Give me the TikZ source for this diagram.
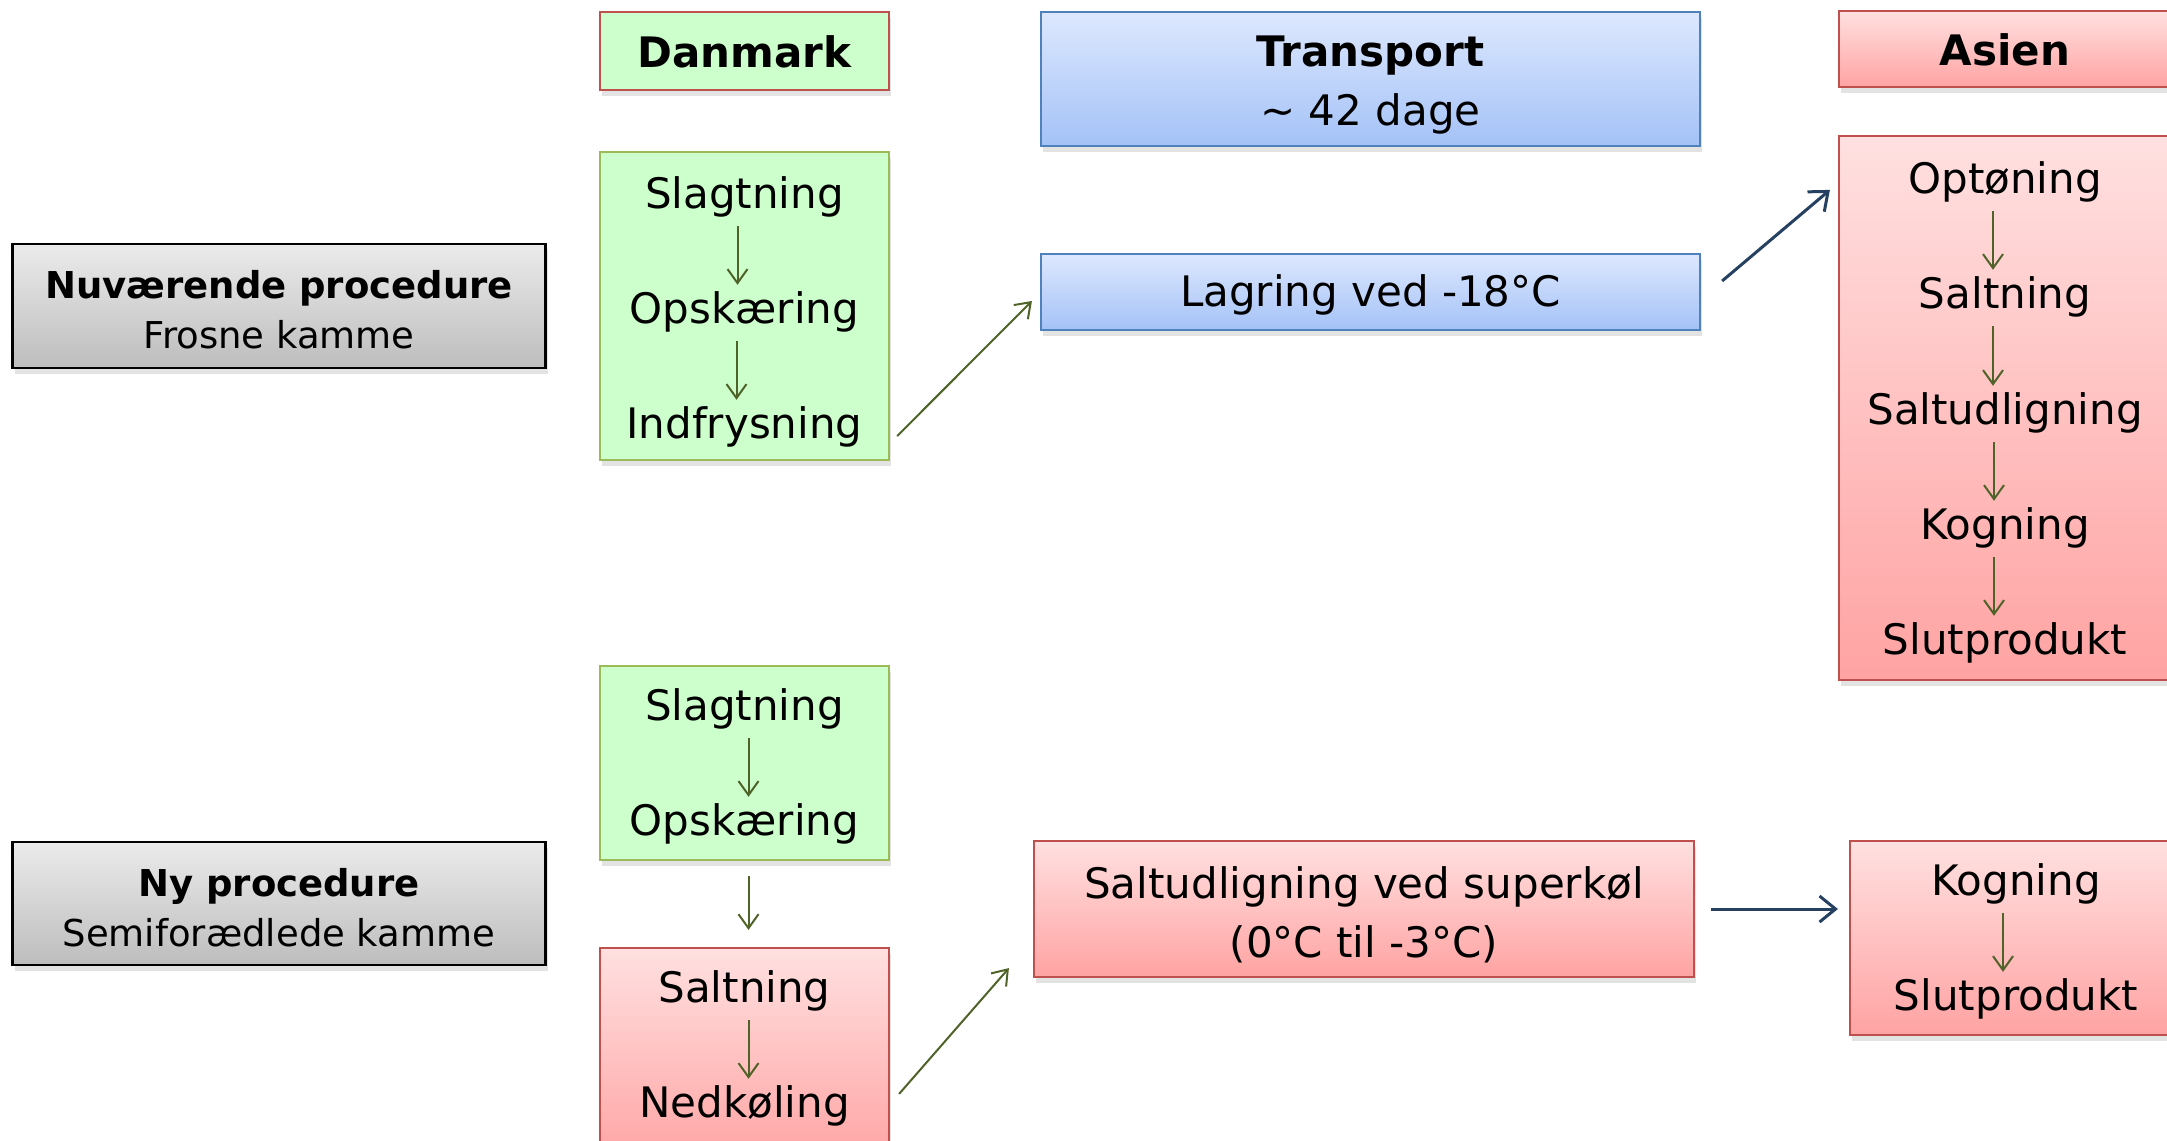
\documentclass[tikz,border=0pt]{standalone}
\usepackage{fontspec}
\setmainfont{DejaVu Sans}
\usetikzlibrary{arrows.meta,shadows}
\definecolor{gfill}{HTML}{CCFFCC}
\definecolor{gborder}{HTML}{9BBB59}
\definecolor{rborder}{HTML}{C0504D}
\definecolor{rtop}{HTML}{FFE0E0}
\definecolor{rbot}{HTML}{FFA3A3}
\definecolor{bborder}{HTML}{4F81BD}
\definecolor{btop}{HTML}{DDE8FE}
\definecolor{bbot}{HTML}{A4C2F7}
\definecolor{gtop}{HTML}{EBEBEB}
\definecolor{gbot}{HTML}{BDBDBD}
\definecolor{garrowc}{HTML}{4F6228}
\definecolor{barrowc}{HTML}{254061}
\begin{document}
\begin{tikzpicture}[x=1pt,y=-1pt,
  box/.style={draw, line width=2.2pt, inner sep=0pt,
    drop shadow={shadow xshift=2pt, shadow yshift=-6pt, opacity=0.22}},
  greenbox/.style={box, draw=gborder, fill=gfill},
  bluebox/.style={box, draw=bborder, top color=btop, bottom color=bbot},
  redbox/.style={box, draw=rborder, top color=rtop, bottom color=rbot},
  greybox/.style={box, draw=black, top color=gtop, bottom color=gbot},
  txt/.style={align=center, inner sep=0pt, font=\fontsize{42}{59}\selectfont},
  lbl/.style={align=center, inner sep=0pt, font=\fontsize{37}{50}\selectfont},
  stp/.style={font=\fontsize{42}{59}\selectfont, text height=31.5pt,
    text depth=10.5pt, inner sep=7pt},
  garrow/.style={draw=garrowc, line width=2pt,
    -{Straight Barb[length=14pt,width=20pt]}},
  barrow/.style={draw=barrowc, line width=3pt,
    -{Straight Barb[length=16pt,width=26pt]}}
]
\useasboundingbox (0,0) rectangle (2167,1140);
\clip (0,0) rectangle (2167,1140);

% headers
\node[box, draw=rborder, fill=gfill, minimum width=289, minimum height=78] (dk) at (744.5,51) {};
\node[stp, font=\fontsize{42}{59}\selectfont\bfseries] (dkt) at (744.5,57) {Danmark};
\node[bluebox, minimum width=659, minimum height=134] (tr) at (1370.5,79) {};
\node[txt] (trt) at (1370.5,85) {\textbf{Transport}\\\textasciitilde\ 42 dage};
\node[redbox, minimum width=332, minimum height=76] (as) at (2005,49) {};
\node[stp, font=\fontsize{42}{59}\selectfont\bfseries] (ast) at (2005,55) {Asien};

% current procedure
\node[greybox, minimum width=533, minimum height=124] (nu) at (279,306) {};
\node[lbl] (nut) at (279,310) {\textbf{Nuværende procedure}\\Frosne kamme};
\node[greenbox, minimum width=289, minimum height=308] (g1) at (744.5,306) {};
\node[stp] (g1a) at (744.5,198) {Slagtning};
\node[stp] (g1b) at (744.5,313) {Opskæring};
\node[stp] (g1c) at (744.5,428) {Indfrysning};
\draw[garrow] ([xshift=-7pt]g1a.south) -- ([xshift=-7pt]g1b.north);
\draw[garrow] ([xshift=-8pt]g1b.south) -- ([xshift=-8pt]g1c.north);

\node[bluebox, minimum width=659, minimum height=76] (lag) at (1370.5,292) {};
\node[stp] (lagt) at (1370.5,296) {Lagring ved -18°C};

\node[redbox, minimum width=332, minimum height=544] (as2) at (2005,408) {};
\node[stp] (a1) at (2005,183) {Optøning};
\node[stp] (a2) at (2005,298) {Saltning};
\node[stp] (a3) at (2005,414) {Saltudligning};
\node[stp] (a4) at (2005,529) {Kogning};
\node[stp] (a5) at (2005,644) {Slutprodukt};
\draw[garrow] ([xshift=-12pt]a1.south) -- ([xshift=-12pt]a2.north);
\draw[garrow] ([xshift=-12pt]a2.south) -- ([xshift=-12pt]a3.north);
\draw[garrow] ([xshift=-11pt]a3.south) -- ([xshift=-11pt]a4.north);
\draw[garrow] ([xshift=-11pt]a4.south) -- ([xshift=-11pt]a5.north);

\draw[garrow] ([shift={(7,-25)}]g1.south east) -- ([shift={(-8,9)}]lag.west);
\draw[barrow] ([shift={(21,-11)}]lag.east) -- ([shift={(-8,55)}]as2.north west);

% new procedure
\node[greybox, minimum width=533, minimum height=123] (ny) at (279,903.5) {};
\node[lbl] (nyt) at (279,908) {\textbf{Ny procedure}\\Semiforædlede kamme};
\node[greenbox, minimum width=289, minimum height=194] (g2) at (744.5,763) {};
\node[stp] (g2a) at (744.5,710) {Slagtning};
\node[stp] (g2b) at (744.5,825) {Opskæring};
\draw[garrow] ([xshift=4pt]g2a.south) -- ([xshift=4pt]g2b.north);

\node[redbox, minimum width=289, minimum height=217] (r3) at (744.5,1056.5) {};
\node[stp] (r3a) at (744.5,992) {Saltning};
\node[stp] (r3b) at (744.5,1107) {Nedkøling};
\draw[garrow] ([xshift=4pt]r3a.south) -- ([xshift=4pt]r3b.north);
\draw[garrow, shorten <=15pt, shorten >=17pt] ([xshift=4pt]g2.south) -- ([xshift=4pt]r3.north);

\node[redbox, minimum width=660, minimum height=136] (sup) at (1364,909) {};
\node[txt] (supt) at (1364,915) {Saltudligning ved superkøl\\(0°C til -3°C)};
\draw[garrow] ([shift={(9,147)}]r3.north east) -- ([shift={(-24,-10)}]sup.south west);

\node[redbox, minimum width=332, minimum height=194] (kog) at (2016,938) {};
\node[stp] (k1) at (2016,885) {Kogning};
\node[stp] (k2) at (2016,1000) {Slutprodukt};
\draw[garrow] ([xshift=-13pt]k1.south) -- ([xshift=-13pt]k2.north);
\draw[barrow, shorten <=16pt, shorten >=11pt] (sup.east) -- (sup.east -| kog.west);
\end{tikzpicture}
\end{document}
